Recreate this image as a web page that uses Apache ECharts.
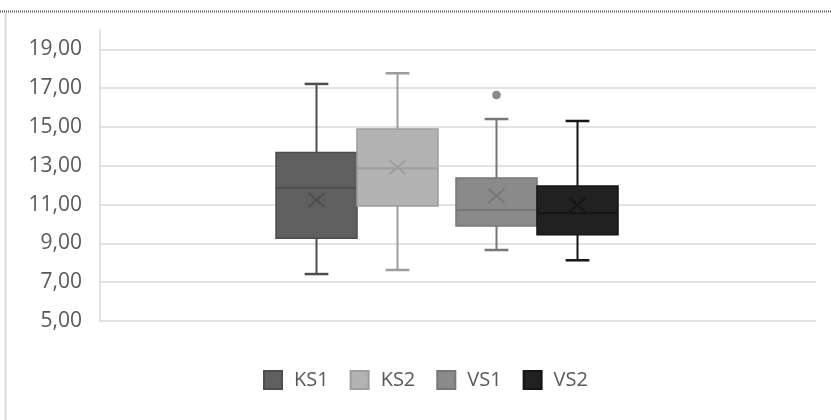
<!DOCTYPE html>
<html>
<head>
<meta charset="utf-8">
<style>
  html, body { margin: 0; padding: 0; background: #ffffff; }
  #chart { width: 831px; height: 420px; }
</style>
<script src="https://cdn.jsdelivr.net/npm/echarts@6/dist/echarts.min.js"></script>
</head>
<body>
<div id="chart"></div>
<script>
// Box-and-whisker summary for four groups, paired by test (KS / VS)
const groups = ['KS', 'VS'];
const seriesNames = ['KS1', 'KS2', 'VS1', 'VS2'];
const seriesGroup = [0, 0, 1, 1];
const minValues    = [7.42, 7.63, 8.66, 8.13];
const q1Values     = [9.26, 10.93, 9.90, 9.45];
const medianValues = [11.87, 12.87, 10.72, 10.55];
const q3Values     = [13.68, 14.90, 12.37, 11.96];
const maxValues    = [17.22, 17.77, 15.41, 15.31];
const meanValues   = [11.24, 12.93, 11.46, 10.98];
const outlierValues = [[], [], [16.65], []];
const yTickValues = [5, 7, 9, 11, 13, 15, 17, 19];

const fills   = ['#5f5f5f', '#b3b3b3', '#8a8a8a', '#212121'];
const strokes = ['#4d4d4d', '#9d9d9d', '#777777', '#151515'];
const sides   = [-1, 1, -1, 1];

const FONT = 'Open Sans';
const chart = echarts.init(document.getElementById('chart'), null, { renderer: 'canvas' });

function renderBox(params, api) {
  const idx = params.seriesIndex;
  const cat = api.value(0);
  const band = api.size([1, 0])[0];
  const half = band * 0.225;
  const cx = api.coord([cat, api.value(3)])[0] + sides[idx] * half;
  const y = v => api.coord([cat, v])[1];
  const capHalf = band * 0.066;
  const stroke = strokes[idx];
  const vMin = y(api.value(1)), vQ1 = y(api.value(2)), vMed = y(api.value(3));
  const vQ3 = y(api.value(4)), vMax = y(api.value(5)), vMean = y(api.value(6));
  const line = (x1, y1, x2, y2, w) => ({
    type: 'line',
    shape: { x1, y1, x2, y2 },
    style: { stroke, lineWidth: w }
  });
  const children = [
    line(cx, vQ3, cx, vMax, 2),
    line(cx, vQ1, cx, vMin, 2),
    line(cx - capHalf, vMax, cx + capHalf, vMax, 2.5),
    line(cx - capHalf, vMin, cx + capHalf, vMin, 2.5),
    {
      type: 'rect',
      shape: { x: cx - half, y: vQ3, width: half * 2, height: vQ1 - vQ3 },
      style: { fill: fills[idx], stroke, lineWidth: 1.5 }
    },
    line(cx - half, vMed, cx + half, vMed, 2),
    line(cx - 8, vMean - 7, cx + 8, vMean + 7, 2),
    line(cx - 8, vMean + 7, cx + 8, vMean - 7, 2)
  ];
  outlierValues[idx].forEach(v => {
    children.push({
      type: 'circle',
      shape: { cx, cy: y(v), r: 4 },
      style: { fill: fills[idx], stroke, lineWidth: 0.5 }
    });
  });
  return { type: 'group', children };
}

const series = seriesNames.map((name, i) => ({
  name,
  type: 'custom',
  xAxisIndex: 1,
  yAxisIndex: 1,
  itemStyle: { color: fills[i], borderColor: strokes[i], borderWidth: 1 },
  encode: { x: 0, y: [1, 2, 3, 4, 5, 6] },
  renderItem: renderBox,
  data: [[seriesGroup[i], minValues[i], q1Values[i], medianValues[i], q3Values[i], maxValues[i], meanValues[i]]]
}));

const option = {
  animation: false,
  backgroundColor: '#ffffff',
  textStyle: { fontFamily: FONT },
  graphic: [
    {
      type: 'line',
      shape: { x1: 0, y1: 11.5, x2: 831, y2: 11.5 },
      style: { stroke: '#5a5a5a', lineWidth: 2, lineDash: [1, 1] },
      silent: true
    },
    {
      type: 'line',
      shape: { x1: 5.5, y1: 13, x2: 5.5, y2: 420 },
      style: { stroke: '#d9d9d9', lineWidth: 2 },
      silent: true
    }
  ],
  grid: [
    { left: 100, right: 15, top: 30, bottom: 99 },
    { left: 267, width: 360, top: 30, bottom: 99 }
  ],
  xAxis: [
    { gridIndex: 0, type: 'value', show: false, min: 0, max: 1 },
    { gridIndex: 1, type: 'category', data: groups, show: false }
  ],
  yAxis: [
    {
      gridIndex: 0,
      type: 'value',
      min: yTickValues[0],
      max: 20,
      axisLine: { show: true, lineStyle: { color: '#d9d9d9', width: 1.5 } },
      axisTick: { show: false, customValues: yTickValues },
      axisLabel: {
        customValues: yTickValues,
        color: '#595959',
        fontSize: 21,
        fontFamily: FONT,
        margin: 18,
        formatter: v => v.toFixed(2).replace('.', ',')
      },
      splitLine: { show: true, lineStyle: { color: '#d9d9d9', width: 1.5 } }
    },
    { gridIndex: 1, type: 'value', min: yTickValues[0], max: 20, show: false }
  ],
  legend: {
    data: seriesNames,
    left: 258,
    top: 365,
    icon: 'rect',
    itemWidth: 18,
    itemHeight: 18,
    itemGap: 21,
    textStyle: { color: '#595959', fontSize: 20, fontFamily: FONT, padding: [0, 0, 0, 7] }
  },
  series
};

chart.setOption(option);
</script>
</body>
</html>
